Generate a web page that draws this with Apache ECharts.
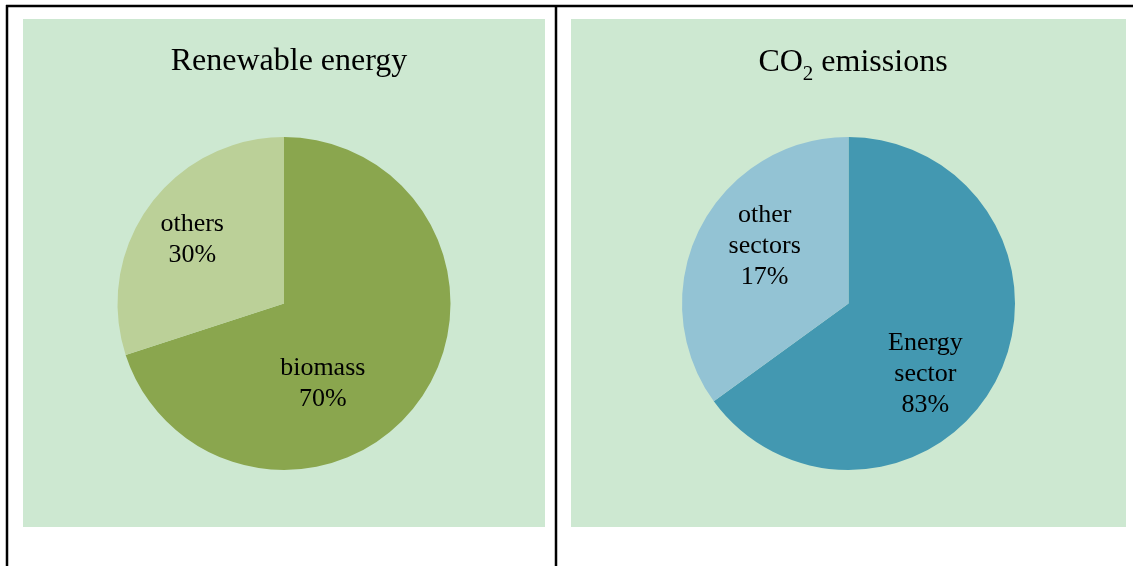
<!DOCTYPE html>
<html>
<head>
<meta charset="utf-8">
<script src="https://cdn.jsdelivr.net/npm/echarts@6/dist/echarts.min.js"></script>
<style>
html,body{margin:0;padding:0;background:#ffffff;}
#chart{width:1133px;height:566px;}
</style>
</head>
<body>
<div id="chart"></div>
<script>
// ---- data ----
var renewableCategories = ['biomass', 'others'];
var renewableShares = [70, 30];              // drawn slice sizes
var renewableLabels = ['70%', '30%'];        // printed values

var co2Categories = ['Energy\nsector', 'other\nsectors'];
var co2Shares = [65, 35];                    // slice sizes as drawn in the reference
var co2Labels = ['83%', '17%'];              // values as printed in the reference

var titles = ['Renewable energy', 'CO2 emissions'];

// ---- styles ----
var FONT = '"Liberation Serif", "Times New Roman", serif';
var BG = '#cde8d1';
var renewableColors = ['#8aa64e', '#bbd098'];
var co2Colors = ['#4398b1', '#93c3d4'];

function makeData(cats, shares, labels, colors) {
  return cats.map(function (c, i) {
    return { name: c, value: shares[i], printed: labels[i], itemStyle: { color: colors[i] } };
  });
}

var chart = echarts.init(document.getElementById('chart'), null, { renderer: 'canvas' });

var labelBase = {
  show: true,
  position: 'inside',
  color: '#000',
  fontFamily: FONT,
  fontSize: 26,
  lineHeight: 31,
  align: 'center',
  formatter: function (p) { return p.name + '\n' + p.data.printed; }
};

var option = {
  backgroundColor: '#ffffff',
  animation: false,
  graphic: [
    { type: 'rect', z: -10, shape: { x: 23, y: 19, width: 522, height: 508 }, style: { fill: BG } },
    { type: 'rect', z: -10, shape: { x: 571, y: 19, width: 555, height: 508 }, style: { fill: BG } },
    { type: 'line', z: 10, shape: { x1: 6, y1: 6, x2: 1133, y2: 6 }, style: { stroke: '#000', lineWidth: 2.5 } },
    { type: 'line', z: 10, shape: { x1: 7, y1: 5, x2: 7, y2: 566 }, style: { stroke: '#000', lineWidth: 2.5 } },
    { type: 'line', z: 10, shape: { x1: 556, y1: 5, x2: 556, y2: 566 }, style: { stroke: '#000', lineWidth: 2.5 } }
  ],
  title: [
    {
      text: titles[0],
      left: 284, top: 41, textAlign: 'center',
      textStyle: { fontFamily: FONT, fontSize: 32, fontWeight: 'normal', color: '#000' }
    },
    {
      text: '{a|CO}{s|2}{a| emissions}',
      left: 848, top: 38, textAlign: 'center',
      textStyle: {
        fontWeight: 'normal',
        rich: {
          a: { fontFamily: FONT, fontSize: 32, fontWeight: 'normal', color: '#000', lineHeight: 36, verticalAlign: 'bottom' },
          s: { fontFamily: FONT, fontSize: 21, fontWeight: 'normal', color: '#000', lineHeight: 36, verticalAlign: 'bottom', padding: [0, 0, -6, 0] }
        }
      }
    }
  ],
  series: [
    {
      type: 'pie',
      center: [284, 303.5],
      radius: [0, 166.5],
      startAngle: 90,
      clockwise: true,
      silent: true,
      label: labelBase,
      labelLine: { show: false },
      itemStyle: { borderWidth: 0 },
      emphasis: { disabled: true },
      data: makeData(renewableCategories, renewableShares, renewableLabels, renewableColors).map(function (d, i) {
        d.label = { offset: i === 0 ? [-31, 29] : [-22, -13] };
        return d;
      })
    },
    {
      type: 'pie',
      center: [848.5, 303.5],
      radius: [0, 166.5],
      startAngle: 90,
      clockwise: true,
      silent: true,
      label: labelBase,
      labelLine: { show: false },
      itemStyle: { borderWidth: 0 },
      emphasis: { disabled: true },
      data: makeData(co2Categories, co2Shares, co2Labels, co2Colors).map(function (d, i) {
        d.label = { offset: i === 0 ? [0, 32] : [-7, -18] };
        return d;
      })
    }
  ]
};

chart.setOption(option);
</script>
</body>
</html>
